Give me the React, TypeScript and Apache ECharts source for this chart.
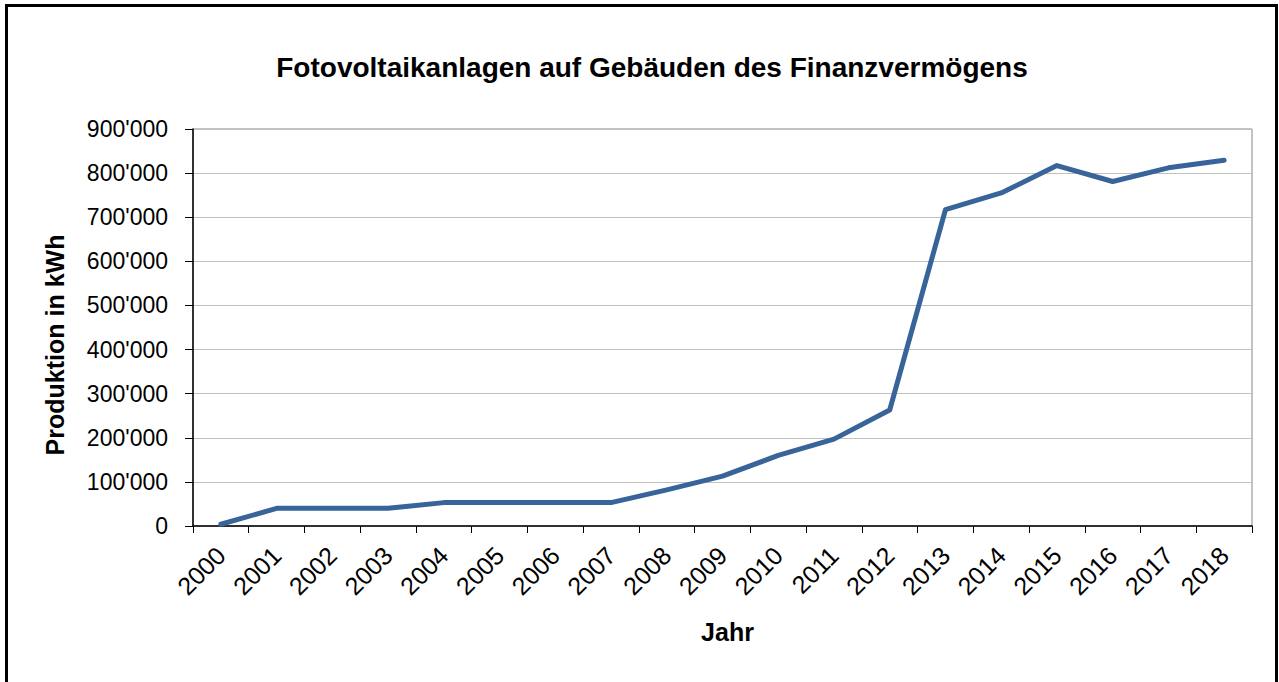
import React, { useEffect, useRef } from "react";
import * as echarts from "echarts";

const titleText = "Fotovoltaikanlagen auf Gebäuden des Finanzvermögens";
const xAxisName = "Jahr";
const yAxisName = "Produktion in kWh";
const years = [
  "2000", "2001", "2002", "2003", "2004", "2005", "2006", "2007", "2008", "2009",
  "2010", "2011", "2012", "2013", "2014", "2015", "2016", "2017", "2018",
];
const production = [
  4000, 40000, 40000, 40000, 53000, 53000, 53000, 53000, 82000, 113000,
  160000, 197000, 263000, 717000, 755000, 817000, 781000, 812000, 829000,
];
const yMin = 0;
const yMax = 900000;
const yInterval = 100000;

const fmt = (v: number) =>
  String(Math.round(v)).replace(/\B(?=(\d{3})+(?!\d))/g, "'");

export default function App() {
  const ref = useRef<HTMLDivElement>(null);
  useEffect(() => {
    if (!ref.current) return;
    const chart = echarts.init(ref.current, undefined, { renderer: "svg" });
    const font = "Liberation Sans, Arial, sans-serif";
    chart.setOption({
      animation: false,
      backgroundColor: "#ffffff",
      title: {
        text: titleText,
        left: 647,
        textAlign: "center",
        top: 48,
        textStyle: { fontFamily: font, fontSize: 28, fontWeight: "bold", color: "#000" },
      },
      grid: {
        left: 193,
        right: 27,
        top: 129,
        bottom: 156,
        show: true,
        borderColor: "#868686",
        borderWidth: 1,
        containLabel: false,
      },
      xAxis: {
        type: "category",
        data: years,
        boundaryGap: true,
        name: xAxisName,
        nameLocation: "middle",
        nameGap: 93,
        nameTextStyle: { fontFamily: font, fontSize: 25, fontWeight: "bold", color: "#000", padding: [0, 0, 0, 10] },
        axisLine: { show: true, lineStyle: { color: "#000", width: 1.5 } },
        axisTick: { show: true, length: 7, alignWithLabel: false, lineStyle: { color: "#000" } },
        axisLabel: {
          rotate: 45,
          interval: 0,
          margin: 25,
          fontFamily: font,
          fontSize: 25,
          color: "#000",
        },
        splitLine: { show: false },
      },
      yAxis: {
        type: "value",
        min: yMin,
        max: yMax,
        interval: yInterval,
        axisLine: { show: true, lineStyle: { color: "#000", width: 1.5 } },
        axisTick: { show: true, length: 8, lineStyle: { color: "#000" } },
        axisLabel: {
          margin: 25,
          fontFamily: font,
          fontSize: 23,
          color: "#000",
          formatter: (v: number) => fmt(v),
        },
        splitLine: { show: true, lineStyle: { color: "#C0C0C0", width: 1 } },
      },
      series: [
        {
          type: "line",
          data: production,
          symbol: "none",
          lineStyle: { color: "#38649A", width: 5, cap: "round", join: "round" },
          itemStyle: { color: "#38649A" },
        },
      ],
      graphic: [
        {
          type: "text",
          x: 55,
          y: 345,
          rotation: Math.PI / 2,
          style: {
            text: yAxisName,
            font: `bold 25px ${font}`,
            fill: "#000",
            align: "center",
            verticalAlign: "middle",
          },
          silent: true,
        },
        {
          type: "rect",
          shape: { x: 6.5, y: 5.5, width: 1270, height: 720 },
          style: { fill: "none", stroke: "#000", lineWidth: 3 },
          silent: true,
          z: 100,
        },
      ],
    });
    return () => chart.dispose();
  }, []);
  return (
    <div
      ref={ref}
      style={{ position: "fixed", left: 0, top: 0, width: 1279, height: 682 }}
    />
  );
}
